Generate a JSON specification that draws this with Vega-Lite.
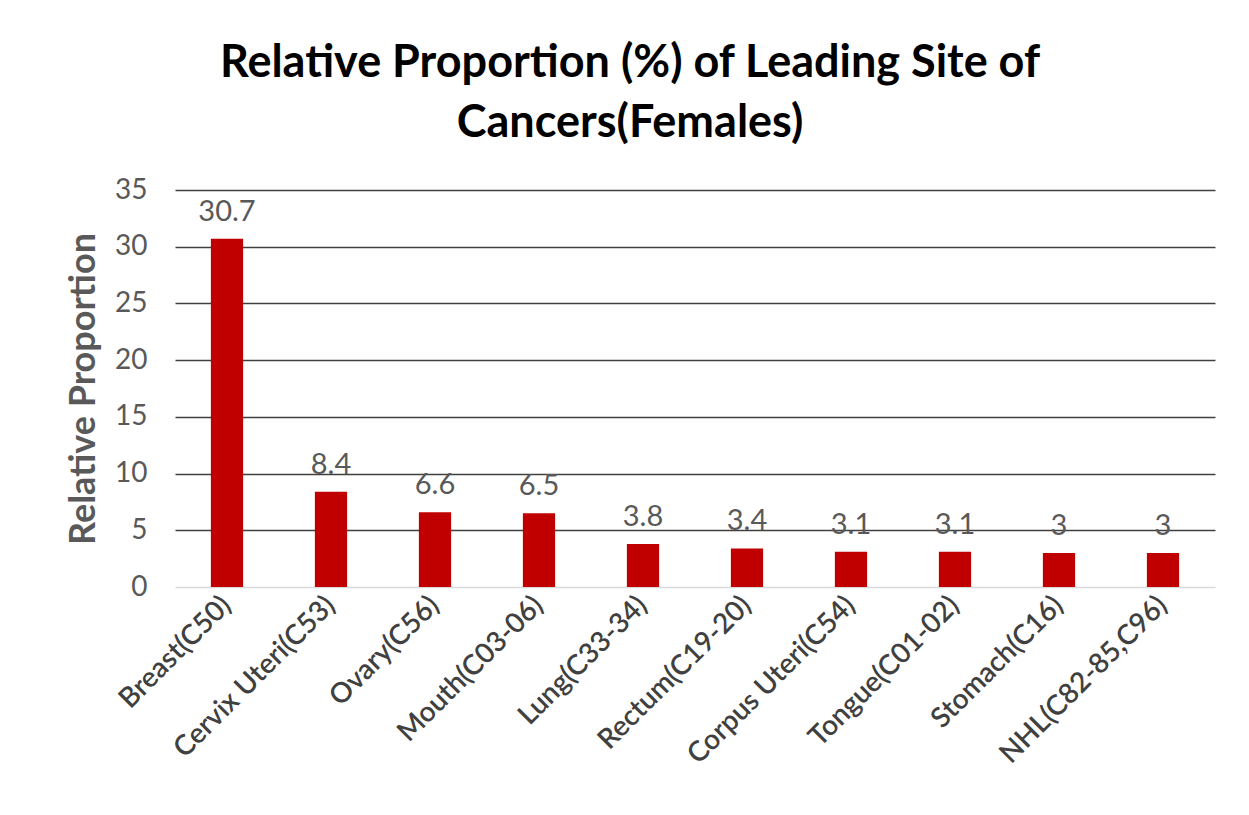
{
  "$schema": "https://vega.github.io/schema/vega-lite/v6.json",
  "autosize": {"type": "none"},
  "width": 1040,
  "height": 397,
  "padding": {"left": 175, "top": 190, "right": 34, "bottom": 228},
  "background": "white",
  "config": {"view": {"stroke": null}, "font": "Lato"},
  "title": {
    "text": ["Relative Proportion (%) of Leading Site of", "Cancers(Females)"],
    "fontSize": 45,
    "fontWeight": "bold",
    "color": "#000000",
    "font": "Lato",
    "lineHeight": 60,
    "offset": 30,
    "anchor": "middle",
    "frame": "group",
    "dx": -65
  },
  "data": {
    "values": [
      {"site": "Breast(C50)", "value": 30.7},
      {"site": "Cervix Uteri(C53)", "value": 8.4},
      {"site": "Ovary(C56)", "value": 6.6},
      {"site": "Mouth(C03-06)", "value": 6.5},
      {"site": "Lung(C33-34)", "value": 3.8},
      {"site": "Rectum(C19-20)", "value": 3.4},
      {"site": "Corpus Uteri(C54)", "value": 3.1},
      {"site": "Tongue(C01-02)", "value": 3.1},
      {"site": "Stomach(C16)", "value": 3},
      {"site": "NHL(C82-85,C96)", "value": 3}
    ]
  },
  "encoding": {
    "x": {
      "field": "site",
      "type": "nominal",
      "sort": null,
      "scale": {"paddingInner": 0.69, "paddingOuter": 0.345},
      "axis": {
        "title": null,
        "labelAngle": -45,
        "labelAlign": "right",
        "labelBaseline": "middle",
        "labelFontSize": 28,
        "labelFontWeight": 600,
        "labelColor": "#404040",
        "labelPadding": 14,
        "labelLimit": 400,
        "domain": false,
        "ticks": false
      }
    },
    "y": {
      "field": "value",
      "type": "quantitative",
      "scale": {"domain": [0, 35], "nice": false},
      "axis": {
        "title": "Relative Proportion",
        "titleFontSize": 36,
        "titleFontWeight": "bold",
        "titleColor": "#595959",
        "titlePadding": 12,
        "values": [0, 5, 10, 15, 20, 25, 30, 35],
        "labelFontSize": 28,
        "labelColor": "#595959",
        "labelPadding": 28,
        "domain": false,
        "ticks": false,
        "grid": true,
        "gridColor": {"condition": {"test": "datum.value === 0", "value": "#d9d9d9"}, "value": "#404040"},
        "gridWidth": 1.5
      }
    }
  },
  "layer": [
    {"mark": {"type": "bar", "color": "#C00000"}},
    {
      "mark": {"type": "text", "dy": -27, "fontSize": 29, "color": "#595959", "font": "Lato"},
      "encoding": {"text": {"field": "value", "type": "quantitative"}}
    }
  ]
}
